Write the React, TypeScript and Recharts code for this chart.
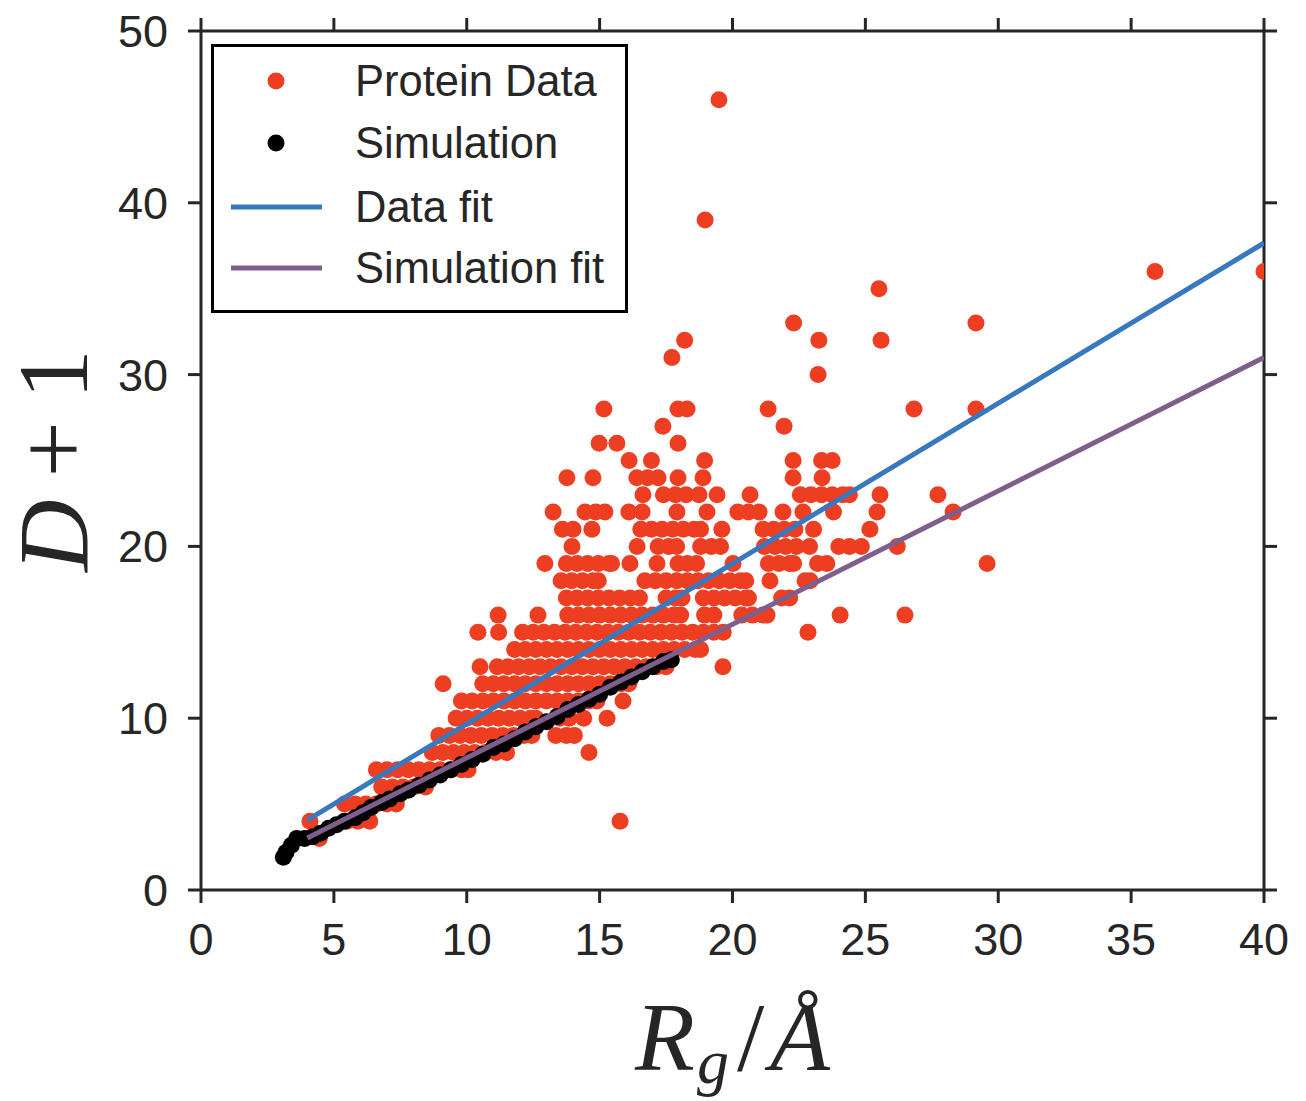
import React from "react"
import { ScatterChart, Scatter, XAxis, YAxis, Label, Legend } from "recharts"

// Protein data: D+1 is an integer, so the points are grouped by row (y) with their Rg values
const proteinRows: { y: number; x: number[] }[] = [
  { y: 3, x: [4.45] },
  { y: 4, x: [4.1, 5.5, 5.9, 6.35, 15.77] },
  { y: 5, x: [5.4, 5.8, 6.2, 6.6, 7.0, 7.35] },
  { y: 6, x: [6.8, 7.2, 7.6, 8.0, 8.45] },
  { y: 7, x: [6.6, 7.0, 7.4, 7.8, 8.2, 8.6, 9.0, 9.4, 9.8, 10.05] },
  { y: 8, x: [8.7, 9.1, 9.5, 9.9, 10.3, 10.7, 11.1, 11.5, 14.6] },
  { y: 9, x: [8.95, 9.35, 9.75, 10.15, 10.55, 10.95, 11.35, 11.75, 12.15, 12.45, 13.35, 13.75, 14.05] },
  { y: 10, x: [9.6, 10.0, 10.4, 10.8, 11.2, 11.6, 12.0, 12.4, 12.6, 13.5, 13.85, 14.4, 15.28] },
  { y: 11, x: [9.8, 10.2, 10.6, 11.0, 11.4, 11.8, 12.2, 12.6, 13.0, 13.4, 13.8, 14.2, 14.6, 14.9, 15.88] },
  { y: 12, x: [9.11, 10.6, 11.0, 11.4, 11.8, 12.2, 12.6, 13.0, 13.4, 13.8, 14.2, 14.6, 15.0, 15.4, 15.8, 16.1] },
  { y: 13, x: [10.5, 11.15, 11.55, 11.95, 12.35, 12.75, 13.15, 13.55, 13.95, 14.35, 14.75, 15.15, 15.55, 15.95, 16.35, 16.75, 17.15, 17.5, 19.64] },
  { y: 14, x: [11.8, 12.2, 12.6, 13.0, 13.4, 13.8, 14.2, 14.6, 15.0, 15.4, 15.8, 16.2, 16.6, 17.0, 17.4, 17.8, 18.2, 18.6, 18.8] },
  { y: 15, x: [10.42, 11.2, 12.1, 12.5, 12.9, 13.3, 13.7, 14.1, 14.5, 14.9, 15.3, 15.7, 16.1, 16.5, 16.9, 17.3, 17.7, 18.1, 18.5, 18.9, 19.3, 19.65, 22.84] },
  { y: 16, x: [11.18, 12.68, 13.8, 14.2, 14.6, 15.0, 15.4, 15.8, 16.2, 16.6, 17.0, 17.4, 17.8, 18.05, 18.95, 19.3, 20.35, 20.75, 21.15, 21.3, 24.05, 26.49] },
  { y: 17, x: [13.75, 14.15, 14.55, 14.95, 15.35, 15.75, 16.15, 16.5, 17.5, 17.85, 18.1, 18.9, 19.3, 19.7, 20.1, 20.5, 20.6, 21.85, 22.15] },
  { y: 18, x: [13.55, 13.95, 14.35, 14.75, 14.95, 16.7, 17.1, 17.5, 17.9, 18.3, 18.7, 19.1, 19.5, 19.9, 20.3, 20.5, 21.41, 22.73, 22.92] },
  { y: 19, x: [12.94, 13.75, 14.15, 14.55, 14.95, 15.35, 15.45, 16.14, 17.16, 17.95, 18.3, 18.65, 20.02, 21.35, 21.75, 22.15, 22.3, 23.2, 23.55, 29.58] },
  { y: 20, x: [13.96, 16.41, 17.2, 17.6, 17.9, 18.8, 19.2, 19.55, 21.2, 21.6, 22.0, 22.4, 22.9, 24.0, 24.4, 24.85, 26.2] },
  { y: 21, x: [13.6, 14.0, 14.71, 16.55, 16.95, 17.35, 17.75, 18.15, 18.55, 18.8, 19.6, 21.15, 21.55, 21.95, 22.35, 23.05, 25.17] },
  { y: 22, x: [13.25, 14.45, 14.85, 15.2, 16.1, 16.6, 17.91, 19.04, 20.2, 20.6, 21.0, 21.9, 22.65, 23.8, 25.44, 28.3] },
  { y: 23, x: [16.63, 17.4, 17.85, 18.25, 18.74, 19.42, 20.66, 22.55, 22.95, 23.35, 23.75, 24.15, 24.4, 25.55, 27.73] },
  { y: 24, x: [13.77, 14.75, 16.4, 16.8, 17.2, 17.95, 18.89, 22.28, 23.37] },
  { y: 25, x: [16.11, 16.95, 18.95, 22.28, 23.35, 23.75] },
  { y: 26, x: [14.98, 15.65, 17.95] },
  { y: 27, x: [17.38, 21.94] },
  { y: 28, x: [15.16, 17.95, 18.29, 21.34, 26.83, 29.16] },
  { y: 30, x: [23.22] },
  { y: 31, x: [17.72] },
  { y: 32, x: [18.2, 23.25, 25.59] },
  { y: 33, x: [22.3, 29.16] },
  { y: 35, x: [25.51] },
  { y: 36, x: [35.9, 40.0] },
  { y: 39, x: [18.97] },
  { y: 46, x: [19.49] },
]

const simX = [3.1, 3.2, 3.4, 3.6, 3.9, 4.2, 4.5, 4.8, 5.1, 5.4, 5.8, 6.1, 6.4, 6.8, 7.1, 7.5, 7.8, 8.2, 8.6, 9.0, 9.4, 9.8, 10.2, 10.6, 11.0, 11.4, 11.8, 12.2, 12.6, 13.0, 13.4, 13.8, 14.2, 14.6, 15.0, 15.4, 15.8, 16.2, 16.6, 17.0, 17.4, 17.7]
const simY = [1.9, 2.2, 2.6, 3.0, 3.0, 3.1, 3.3, 3.6, 3.8, 4.0, 4.2, 4.5, 4.8, 5.1, 5.3, 5.6, 5.8, 6.1, 6.4, 6.7, 7.0, 7.3, 7.6, 7.9, 8.3, 8.5, 8.8, 9.2, 9.5, 9.8, 10.1, 10.5, 10.8, 11.1, 11.4, 11.8, 12.1, 12.4, 12.7, 13.0, 13.3, 13.4]

// fit lines, end points
const dataFit = [
  { x: 4, y: 4.07 },
  { x: 40, y: 37.66 },
]
const simFit = [
  { x: 4, y: 3.03 },
  { x: 40, y: 31.0 },
]

const xTicks = [0, 5, 10, 15, 20, 25, 30, 35, 40]
const yTicks = [0, 10, 20, 30, 40, 50]

const RED = "#ee3e22"
const BLUE = "#3778bf"
const PURPLE = "#7d5e8c"
const INK = "#262626"
const SANS = "'Liberation Sans', Arial, sans-serif"
const SERIF = "'Liberation Serif', 'Times New Roman', serif"

const legendItems = [
  { name: "Protein Data", kind: "dot", color: RED },
  { name: "Simulation", kind: "dot", color: "#000000" },
  { name: "Data fit", kind: "line", color: BLUE },
  { name: "Simulation fit", kind: "line", color: PURPLE },
]

const proteinPoints = proteinRows.flatMap((row) => row.x.map((x) => ({ x, y: row.y })))
const simPoints = simX.map((x, i) => ({ x, y: simY[i] }))

const dot = (color: string) => (props: any) => <circle cx={props.cx} cy={props.cy} r={8.5} fill={color} />
const noShape = () => <g />
const noTickLabel = () => <g />
const fitLine = (color: string) => (props: any) => (
  <path
    d={props.points.map((p: any, i: number) => `${i ? "L" : "M"}${p.x},${p.y}`).join(" ")}
    stroke={color}
    strokeWidth={5}
    fill="none"
  />
)

function XTitle(props: any) {
  const vb = props.viewBox
  const cx = vb.x + vb.width / 2
  return (
    <text x={cx} y={vb.y + 180} textAnchor="middle" fontFamily={SERIF} fontSize={98} fill={INK}>
      <tspan fontStyle="italic">R</tspan>
      <tspan fontStyle="italic" fontSize={64} dy={13} dx={2}>g</tspan>
      <tspan dy={-13} dx={8}>/</tspan>
      <tspan fontStyle="italic" dx={6}>Å</tspan>
    </text>
  )
}

function YTitle(props: any) {
  const vb = props.viewBox
  const cy = vb.y + vb.height / 2
  return (
    <text transform={`translate(${vb.x - 14}, ${cy}) rotate(-90)`} textAnchor="middle" fontFamily={SERIF} fontSize={100} fill={INK}>
      <tspan fontStyle="italic">D</tspan>
      <tspan dx={22}>+</tspan>
      <tspan dx={22}>1</tspan>
    </text>
  )
}

function LegendBox() {
  const rows = [34, 96, 160, 221]
  return (
    <div style={{ width: 417, height: 269, border: "3px solid #000", boxSizing: "border-box", background: "#fff", position: "relative" }}>
      <svg width={411} height={263} style={{ position: "absolute", left: 0, top: 0 }}>
        {legendItems.map((item, i) =>
          <g key={item.name}>
            {item.kind === "dot"
              ? <circle cx={62} cy={rows[i]} r={8.5} fill={item.color} />
              : <line x1={17} x2={108} y1={rows[i]} y2={rows[i]} stroke={item.color} strokeWidth={5} />}
            <text x={141} y={rows[i] + 15} fontFamily={SANS} fontSize={43.5} fill={INK}>{item.name}</text>
          </g>
        )}
      </svg>
    </div>
  )
}

export default function App() {
  const axisProps = {
    type: "number" as const,
    stroke: INK,
    tickSize: 13,
    tickMargin: 20,
    axisLine: { stroke: INK, strokeWidth: 3 },
    tickLine: { stroke: INK, strokeWidth: 3 },
    allowDataOverflow: true,
  }
  return (
    <div style={{ position: "absolute", left: 0, top: 0, background: "#fff" }}>
      <ScatterChart width={1306} height={1101} margin={{ top: 30, right: 41, bottom: 131, left: 101 }}>
        <XAxis {...axisProps} xAxisId="bottom" dataKey="x" domain={[0, 40]} ticks={xTicks} height={80}
          tick={{ fontSize: 45, fill: INK, fontFamily: SANS }}>
          <Label content={XTitle} />
        </XAxis>
        <XAxis {...axisProps} xAxisId="top" orientation="top" dataKey="x" domain={[0, 40]} ticks={xTicks} height={1} tick={noTickLabel} />
        <YAxis {...axisProps} yAxisId="left" dataKey="y" domain={[0, 50]} ticks={yTicks} width={100}
          tick={{ fontSize: 45, fill: INK, fontFamily: SANS }}>
          <Label content={YTitle} />
        </YAxis>
        <YAxis {...axisProps} yAxisId="right" orientation="right" dataKey="y" domain={[0, 50]} ticks={yTicks} width={1} tick={noTickLabel} />
        <Legend content={<LegendBox />} layout="horizontal" verticalAlign="middle" align="center"
          wrapperStyle={{ left: 211, top: 44, width: 417, height: 269 }} />
        <Scatter name="Protein Data" xAxisId="bottom" yAxisId="left" data={proteinPoints} fill={RED} shape={dot(RED)} isAnimationActive={false} />
        <Scatter name="Simulation" xAxisId="bottom" yAxisId="left" data={simPoints} fill="#000" shape={dot("#000")} isAnimationActive={false} />
        <Scatter name="Data fit" xAxisId="bottom" yAxisId="left" data={dataFit} fill={BLUE} line={fitLine(BLUE)} shape={noShape} isAnimationActive={false} />
        {/* same domains as bottom/left, placed on the top/right axes so the frame axes are drawn */}
        <Scatter name="Simulation fit" xAxisId="top" yAxisId="right" data={simFit} fill={PURPLE} line={fitLine(PURPLE)} shape={noShape} isAnimationActive={false} />
      </ScatterChart>
    </div>
  )
}
